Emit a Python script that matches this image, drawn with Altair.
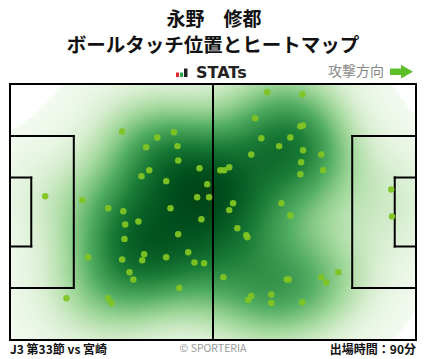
import numpy as np
import pandas as pd
import altair as alt

# ---- data (pitch coordinates in metres, x: 0-105 left->right, y: 0-68 top->bottom)
touch_x = [29.0, 38.1, 42.4, 35.2, 43.3, 43.5, 36.0, 34.0, 40.4, 49.0, 51.0, 48.4, 51.5,
           9.1, 18.7, 25.4, 29.3, 41.5, 29.8, 33.2, 49.5, 43.5, 29.6, 20.2, 29.0, 34.2,
           34.7, 40.4, 46.1, 47.7, 50.2, 30.9, 31.9, 43.8, 14.6, 25.4, 26.2,
           66.5, 75.6, 63.4, 75.1, 75.8, 65.0, 72.5, 69.6, 75.8, 62.4, 80.5, 75.3, 54.4,
           55.4, 56.7, 81.0, 75.1, 98.6, 57.7, 56.7, 70.2, 72.5, 98.8, 58.8, 61.1, 61.4,
           55.2, 71.6, 72.1, 80.5, 81.8, 84.9, 67.6, 67.6, 62.4, 61.6, 75.6]
touch_y = [12.6, 14.2, 12.8, 16.8, 16.5, 20.3, 22.9, 24.5, 25.8, 22.4, 26.6, 30.1, 30.1,
           29.8, 30.9, 33.0, 33.8, 33.0, 37.3, 36.5, 35.9, 39.9, 41.2, 46.0, 46.6, 46.8,
           45.2, 46.0, 44.7, 47.4, 47.6, 50.0, 51.9, 54.2, 56.9, 56.9, 58.2,
           2.2, 2.7, 9.1, 11.2, 11.0, 14.4, 14.2, 16.5, 17.6, 18.7, 18.7, 20.8, 22.9,
           22.9, 22.1, 22.9, 24.0, 28.0, 31.7, 33.5, 31.7, 34.9, 35.2, 38.3, 40.2, 40.7,
           51.3, 51.9, 51.9, 51.3, 52.7, 50.0, 55.9, 58.2, 56.3, 57.4, 58.0]

title_lines = ["永野　修都", "ボールタッチ位置とヒートマップ"]
logo_text = "STATs"
direction_text = "攻撃方向"
footer_left = "J3 第33節 vs 宮崎"
footer_mid = "© SPORTERIA"
footer_right = "出場時間：90分"

# pitch markings (x1, y1, x2, y2)
pitch_lines = [
    (0, 0, 105, 0), (0, 68, 105, 68), (0, 0, 0, 68), (105, 0, 105, 68),
    (52.5, 0, 52.5, 68),
    (0, 13.84, 16.5, 13.84), (16.5, 13.84, 16.5, 54.16), (0, 54.16, 16.5, 54.16),
    (0, 24.84, 5.5, 24.84), (5.5, 24.84, 5.5, 43.16), (0, 43.16, 5.5, 43.16),
    (105, 13.84, 88.5, 13.84), (88.5, 13.84, 88.5, 54.16), (105, 54.16, 88.5, 54.16),
    (105, 24.84, 99.5, 24.84), (99.5, 24.84, 99.5, 43.16), (105, 43.16, 99.5, 43.16),
]

# ---- kernel density of the touches (grid of 203 x 128 cells)
tx = np.array(touch_x)
ty = np.array(touch_y)
nx, ny = 203, 128
sx, sy = 105 / nx, 68 / ny
ix, iy = np.meshgrid(np.arange(nx), np.arange(ny))
cx, cy = (ix + 0.5) * sx, (iy + 0.5) * sy
bw = 9.5
dens = np.zeros_like(cx)
for px, py in zip(tx, ty):
    dens += np.exp(-((cx - px) ** 2 + (cy - py) ** 2) / (2 * bw ** 2))
dens = dens / dens.max()

heat = pd.DataFrame({
    "x": (ix * sx).ravel(), "x2": ((ix + 1) * sx).ravel(),
    "y": (iy * sy).ravel(), "y2": ((iy + 1) * sy).ravel(),
    "v": np.round(dens.ravel(), 4),
})
heat = heat[heat["v"] > 0.012]

touches = pd.DataFrame({"x": touch_x, "y": touch_y})
lines_df = pd.DataFrame(pitch_lines, columns=["x", "y", "x2", "y2"])

xsc = alt.Scale(domain=[0, 105], nice=False, zero=False)
ysc = alt.Scale(domain=[0, 68], nice=False, zero=False, reverse=True)

col_scale = alt.Scale(domain=[0.012, 0.13, 0.3, 0.5, 0.72, 0.95],
                      range=["#f3faf0", "#d9efd2", "#9fd79a", "#52ae62", "#1a7d38", "#004e1c"])

heat_layer = alt.Chart(heat).mark_rect().encode(
    x=alt.X("x:Q", scale=xsc, axis=None), x2="x2:Q",
    y=alt.Y("y:Q", scale=ysc, axis=None), y2="y2:Q",
    color=alt.Color("v:Q", scale=col_scale, legend=None),
)

line_layer = alt.Chart(lines_df).mark_rule(color="black", strokeWidth=2, strokeCap="square").encode(
    x=alt.X("x:Q", scale=xsc, axis=None), x2="x2:Q",
    y=alt.Y("y:Q", scale=ysc, axis=None), y2="y2:Q",
)

pt_layer = alt.Chart(touches).mark_circle(size=42, color="#80c423", opacity=0.95).encode(
    x=alt.X("x:Q", scale=xsc, axis=None),
    y=alt.Y("y:Q", scale=ysc, axis=None),
)

one = alt.Data(values=[{}])
FONT = "Noto Sans CJK JP"


def txt(text, x, y, size, color="#111111", weight="bold", align="center", font=FONT):
    return alt.Chart(one).mark_text(text=text, fontSize=size, fontWeight=weight, color=color,
                                    align=align, baseline="middle", font=font).encode(
        x=alt.value(x), y=alt.value(y))


texts = [
    txt(title_lines[0], 204, -64, 19),
    txt(title_lines[1], 203, -38, 19.5),
    txt(logo_text, 186, -11, 16, color="#222222", align="left", font="DejaVu Sans"),
    txt(direction_text, 374, -12.5, 14, color="#888888", weight="normal", align="right"),
    txt(footer_left, 0, 266, 12, align="left"),
    txt(footer_mid, 203, 265, 10.5, color="#999999", weight="normal"),
    txt(footer_right, 406, 266, 12, align="right"),
]

# logo bars
bars = [
    alt.Chart(one).mark_rect(color="#e0282e").encode(x=alt.value(166), x2=alt.value(169), y=alt.value(-11.5), y2=alt.value(-7)),
    alt.Chart(one).mark_rect(color="#2fa84f").encode(x=alt.value(170), x2=alt.value(173), y=alt.value(-11.5), y2=alt.value(-7)),
    alt.Chart(one).mark_rect(color="#222222").encode(x=alt.value(174), x2=alt.value(177.5), y=alt.value(-15.5), y2=alt.value(-7)),
]

# direction arrow
arrow = [
    alt.Chart(one).mark_rect(color="#5cbf2a").encode(x=alt.value(380), x2=alt.value(394), y=alt.value(-15.5), y2=alt.value(-9)),
    alt.Chart(one).mark_point(shape="triangle-right", filled=True, size=190, color="#5cbf2a", opacity=1).encode(
        x=alt.value(397), y=alt.value(-12.3)),
]

chart = alt.layer(heat_layer, line_layer, pt_layer, *texts, *bars, *arrow).properties(
    width=406, height=256,
    autosize=alt.AutoSizeParams(type="none"),
    padding={"left": 10, "top": 84, "right": 12, "bottom": 19},
    background="white",
).configure_view(strokeWidth=0)

chart.save("out.html", embed_options={"renderer": "svg", "actions": False})
